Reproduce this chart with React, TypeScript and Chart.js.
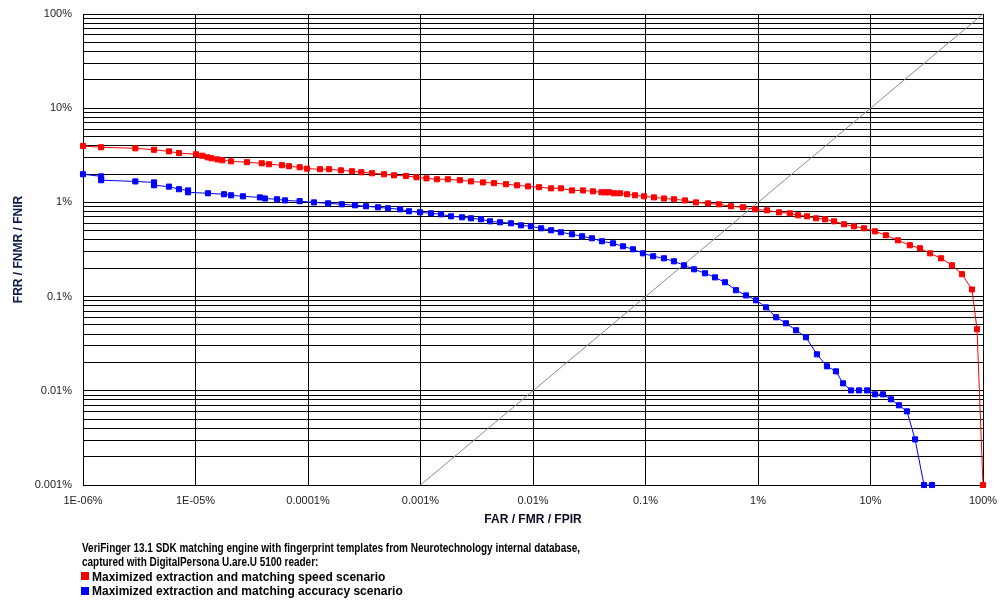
import React, { useEffect, useRef } from 'react';
import { Chart, registerables } from 'chart.js';

Chart.register(...registerables);

// Axis decades and tick labels (values in percent)
const xDecades = [1e-6, 1e-5, 1e-4, 1e-3, 1e-2, 1e-1, 1, 10, 100];
const xTickLabels = ['1E-06%', '1E-05%', '0.0001%', '0.001%', '0.01%', '0.1%', '1%', '10%', '100%'];
const yDecades = [0.001, 0.01, 0.1, 1, 10, 100];
const yTickLabels = ['0.001%', '0.01%', '0.1%', '1%', '10%', '100%'];

// Maximized extraction and matching speed scenario (red)
const speedFAR = [
  1.0e-6, 1.45e-6, 2.92e-6, 4.28e-6, 5.81e-6, 7.13e-6, 1.01e-5, 1.15e-5, 1.28e-5, 1.39e-5,
  1.57e-5, 1.73e-5, 2.07e-5, 2.87e-5, 3.88e-5, 4.5e-5, 5.87e-5, 6.78e-5, 8.43e-5, 9.8e-5,
  1.28e-4, 1.54e-4, 1.96e-4, 2.46e-4, 2.98e-4, 3.71e-4, 4.74e-4, 5.81e-4, 7.43e-4, 9.2e-4,
  1.13e-3, 1.4e-3, 1.75e-3, 2.24e-3, 2.81e-3, 3.6e-3, 4.5e-3, 5.75e-3, 7.21e-3, 9.03e-3,
  1.13e-2, 1.45e-2, 1.77e-2, 2.22e-2, 2.78e-2, 3.41e-2, 4.06e-2, 4.4e-2, 4.74e-2, 5.25e-2,
  5.93e-2, 6.85e-2, 8.07e-2, 9.7e-2, 0.119, 0.146, 0.179, 0.224, 0.281, 0.36,
  0.45, 0.575, 0.736, 0.94, 1.2, 1.54, 1.92, 2.27, 2.73, 3.28,
  3.94, 4.74, 5.81, 7.13, 8.75, 10.96, 13.7, 17.5, 22.4, 27.5,
  33.8, 42.4, 53.0, 65.0, 79.8, 88.5, 100,
];
const speedFRR = [
  3.97, 3.85, 3.75, 3.62, 3.48, 3.34, 3.24, 3.13, 3.01, 2.94,
  2.86, 2.8, 2.73, 2.67, 2.6, 2.54, 2.48, 2.42, 2.36, 2.28,
  2.25, 2.25, 2.19, 2.14, 2.09, 2.04, 1.99, 1.94, 1.91, 1.85,
  1.8, 1.76, 1.76, 1.72, 1.67, 1.63, 1.6, 1.56, 1.52, 1.48,
  1.45, 1.41, 1.41, 1.34, 1.34, 1.31, 1.28, 1.28, 1.28, 1.25,
  1.25, 1.22, 1.19, 1.16, 1.13, 1.1, 1.08, 1.05, 1.0, 0.977,
  0.955, 0.91, 0.887, 0.845, 0.824, 0.785, 0.766, 0.73, 0.712, 0.678,
  0.662, 0.63, 0.586, 0.557, 0.531, 0.493, 0.448, 0.396, 0.351, 0.326,
  0.288, 0.255, 0.215, 0.173, 0.119, 0.045, 0.001,
];

// Maximized extraction and matching accuracy scenario (blue)
const accuracyFAR = [
  1.0e-6, 1.45e-6, 1.45e-6, 2.92e-6, 4.28e-6, 4.28e-6, 5.81e-6, 7.13e-6, 8.58e-6, 8.58e-6,
  1.29e-5, 1.79e-5, 2.07e-5, 2.64e-5, 3.74e-5, 4.15e-5, 5.3e-5, 6.25e-5, 8.43e-5, 1.13e-4,
  1.51e-4, 2.0e-4, 2.62e-4, 3.28e-4, 4.19e-4, 5.14e-4, 6.58e-4, 7.91e-4, 9.91e-4, 1.24e-3,
  1.52e-3, 1.87e-3, 2.34e-3, 2.81e-3, 3.45e-3, 4.15e-3, 5.09e-3, 6.37e-3, 7.82e-3, 9.59e-3,
  1.18e-2, 1.45e-2, 1.77e-2, 2.22e-2, 2.73e-2, 3.34e-2, 4.1e-2, 5.14e-2, 6.31e-2, 7.74e-2,
  9.5e-2, 0.117, 0.146, 0.179, 0.22, 0.27, 0.338, 0.415, 0.509, 0.637,
  0.782, 0.96, 1.18, 1.45, 1.77, 2.18, 2.67, 3.34, 4.1, 4.93,
  5.7, 6.71, 7.91, 9.31, 10.96, 12.9, 15.2, 17.9, 21.1, 24.9,
  29.9, 35.2,
];
const accuracyFRR = [
  1.99, 1.89, 1.72, 1.67, 1.63, 1.52, 1.47, 1.38, 1.34, 1.28,
  1.25, 1.22, 1.19, 1.16, 1.13, 1.1, 1.08, 1.05, 1.03, 1.0,
  0.977, 0.955, 0.932, 0.91, 0.887, 0.866, 0.845, 0.805, 0.785, 0.766,
  0.748, 0.712, 0.695, 0.678, 0.662, 0.63, 0.615, 0.6, 0.571, 0.557,
  0.531, 0.506, 0.482, 0.459, 0.437, 0.416, 0.387, 0.368, 0.342, 0.318,
  0.288, 0.268, 0.255, 0.237, 0.215, 0.195, 0.177, 0.16, 0.142, 0.117,
  0.103, 0.0914, 0.0769, 0.0603, 0.0521, 0.0439, 0.037, 0.0244, 0.0182, 0.0161,
  0.012, 0.0101, 0.0101, 0.0101, 0.00918, 0.00918, 0.00813, 0.00702, 0.00605, 0.00305,
  0.001, 0.001,
];

// Equal error rate reference line (FAR = FRR)
const eerLineFAR = [0.001, 100];
const eerLineFRR = [0.001, 100];

const captionLines = [
  'VeriFinger 13.1 SDK matching engine with fingerprint templates from Neurotechnology internal database,',
  'captured with DigitalPersona U.are.U 5100 reader:',
];
const seriesNames = [
  'Maximized extraction and matching speed scenario',
  'Maximized extraction and matching accuracy scenario',
];
const seriesColors = ['#ff0000', '#0000ff'];

const FONT = '"Liberation Sans", Arial, sans-serif';

function labelFor(v: number, decades: number[], labels: string[]) {
  const i = decades.findIndex((d) => Math.abs(v / d - 1) < 1e-6);
  return i >= 0 ? labels[i] : '';
}

function allLogTicks(decades: number[]) {
  const out: number[] = [];
  for (let i = 0; i < decades.length - 1; i++) {
    for (let m = 1; m <= 9; m++) out.push(Number((m * decades[i]).toPrecision(4)));
  }
  out.push(decades[decades.length - 1]);
  return out;
}

const zip = (xs: number[], ys: number[]) => xs.map((x, i) => ({ x, y: ys[i] }));

export default function App() {
  const ref = useRef<HTMLCanvasElement>(null);

  useEffect(() => {
    if (!ref.current) return;
    const yTicks = allLogTicks(yDecades);
    const chart = new Chart(ref.current, {
      type: 'line',
      data: {
        datasets: [
          {
            label: seriesNames[1],
            data: zip(accuracyFAR, accuracyFRR),
            borderColor: seriesColors[1],
            backgroundColor: seriesColors[1],
            borderWidth: 1,
            pointStyle: 'rect',
            pointRadius: 3.6,
            pointBorderWidth: 1,
            pointBackgroundColor: seriesColors[1],
            pointBorderColor: seriesColors[1],
            tension: 0,
            clip: false as any,
          },
          {
            label: seriesNames[0],
            data: zip(speedFAR, speedFRR),
            borderColor: seriesColors[0],
            backgroundColor: seriesColors[0],
            borderWidth: 1,
            pointStyle: 'rect',
            pointRadius: 3.6,
            pointBorderWidth: 1,
            pointBackgroundColor: seriesColors[0],
            pointBorderColor: seriesColors[0],
            tension: 0,
            clip: false as any,
          },
          {
            label: 'EER',
            data: zip(eerLineFAR, eerLineFRR),
            borderColor: '#8a8a8a',
            borderWidth: 1,
            pointRadius: 0,
            tension: 0,
          },
        ],
      },
      options: {
        animation: false,
        responsive: false,
        devicePixelRatio: 1,
        layout: { padding: { top: 14, right: 22, left: 0, bottom: 73 } },
        plugins: {
          legend: { display: false },
          tooltip: { enabled: false },
        },
        scales: {
          x: {
            type: 'logarithmic',
            min: xDecades[0],
            max: xDecades[xDecades.length - 1],
            afterBuildTicks: (s: any) => {
              s.ticks = xDecades.map((v) => ({ value: v }));
            },
            afterFit: (s: any) => {
              s.height = 42;
              s.paddingLeft = 20;
              s.paddingRight = 12;
            },
            grid: { color: '#000', lineWidth: 1, drawTicks: false },
            border: { color: '#000', width: 1 },
            ticks: {
              autoSkip: false,
              maxRotation: 0,
              padding: 9,
              color: '#222',
              font: { family: FONT, size: 11 },
              callback: (v: any) => labelFor(Number(v), xDecades, xTickLabels),
            },
            title: {
              display: true,
              text: 'FAR / FMR / FPIR',
              color: '#0a0a20',
              font: { family: FONT, size: 12, weight: 'bold' },
              padding: { top: 0, bottom: 0 },
            },
          },
          y: {
            type: 'logarithmic',
            min: yDecades[0],
            max: yDecades[yDecades.length - 1],
            afterBuildTicks: (s: any) => {
              s.ticks = yTicks.map((v) => ({ value: v }));
            },
            afterFit: (s: any) => {
              s.width = 83;
              s.paddingTop = 7;
              s.paddingBottom = 7;
            },
            grid: { color: '#000', lineWidth: 1, drawTicks: false },
            border: { color: '#000', width: 1 },
            ticks: {
              autoSkip: false,
              padding: 11,
              color: '#222',
              font: { family: FONT, size: 11 },
              callback: (v: any) => labelFor(Number(v), yDecades, yTickLabels),
            },
            title: {
              display: true,
              text: 'FRR / FNMR / FNIR',
              color: '#0b1a4a',
              font: { family: FONT, size: 12, weight: 'bold' },
              padding: { top: 11, bottom: 0 },
            },
          },
        },
      } as any,
    });
    return () => chart.destroy();
  }, []);

  const lineStyle: React.CSSProperties = {
    position: 'absolute',
    whiteSpace: 'nowrap',
    font: 'bold 12px "Liberation Sans", Arial, sans-serif',
    color: '#000',
    lineHeight: '14px',
  };
  const narrow: React.CSSProperties = {
    transform: 'scaleX(0.83)',
    transformOrigin: '0 50%',
  };
  const square = (color: string, top: number): React.CSSProperties => ({
    position: 'absolute',
    left: 81,
    top,
    width: 8,
    height: 8,
    background: color,
  });

  return (
    <div style={{ position: 'absolute', left: 0, top: 0, width: 1005, height: 600, background: '#fff' }}>
      <canvas ref={ref} width={1005} height={600} style={{ display: 'block', width: 1005, height: 600 }} />
      <div style={{ ...lineStyle, ...narrow, left: 82, top: 541 }}>{captionLines[0]}</div>
      <div style={{ ...lineStyle, ...narrow, left: 82, top: 555.3 }}>{captionLines[1]}</div>
      <div style={square(seriesColors[0], 572)} />
      <div style={{ ...lineStyle, left: 92, top: 569.6 }}>{seriesNames[0]}</div>
      <div style={square(seriesColors[1], 587)} />
      <div style={{ ...lineStyle, left: 92, top: 584 }}>{seriesNames[1]}</div>
    </div>
  );
}
